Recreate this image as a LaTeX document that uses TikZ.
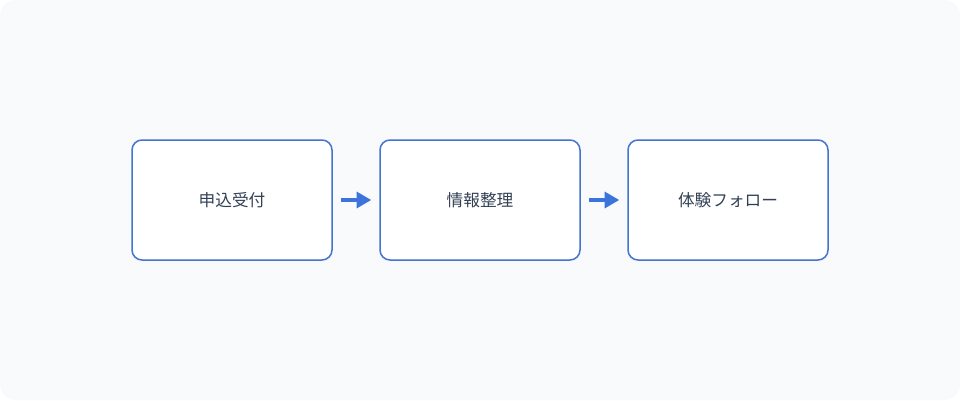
\documentclass[tikz,border=0pt]{standalone}
\usepackage{fontspec}
\newfontfamily\cjk{Noto Sans CJK JP}
\usetikzlibrary{arrows.meta,positioning}
\definecolor{bgfill}{HTML}{F8FAFC}
\definecolor{boxline}{HTML}{4474CF}
\definecolor{arrowblue}{HTML}{3D74DB}
\definecolor{txt}{HTML}{334155}
\tikzset{
  stepbox/.style={draw=boxline,line width=1.5pt*0.75,fill=white,rounded corners=7.5pt,
    minimum width=150pt,minimum height=90pt,inner sep=0pt,
    font=\cjk\fontsize{12.5pt}{14pt}\selectfont,text=txt},
  flow/.style={draw=arrowblue,line width=2.6pt,-{Triangle[length=11pt,width=12pt]}}
}
\begin{document}
\begin{tikzpicture}[x=0.75pt,y=-0.75pt,line join=round]
  \fill[bgfill,rounded corners=12pt] (0,0) rectangle (960,400);
  \useasboundingbox (0,0) rectangle (960,400);
  \node[stepbox] (apply) at (232,200) {申込受付};
  \node[stepbox] (sort) at (480,200) {情報整理};
  \node[stepbox] (follow) at (728,200) {体験フォロー};
  \draw[flow] ([xshift=6pt]apply.east) -- ([xshift=-6pt]sort.west);
  \draw[flow] ([xshift=6pt]sort.east) -- ([xshift=-6pt]follow.west);
\end{tikzpicture}
\end{document}
